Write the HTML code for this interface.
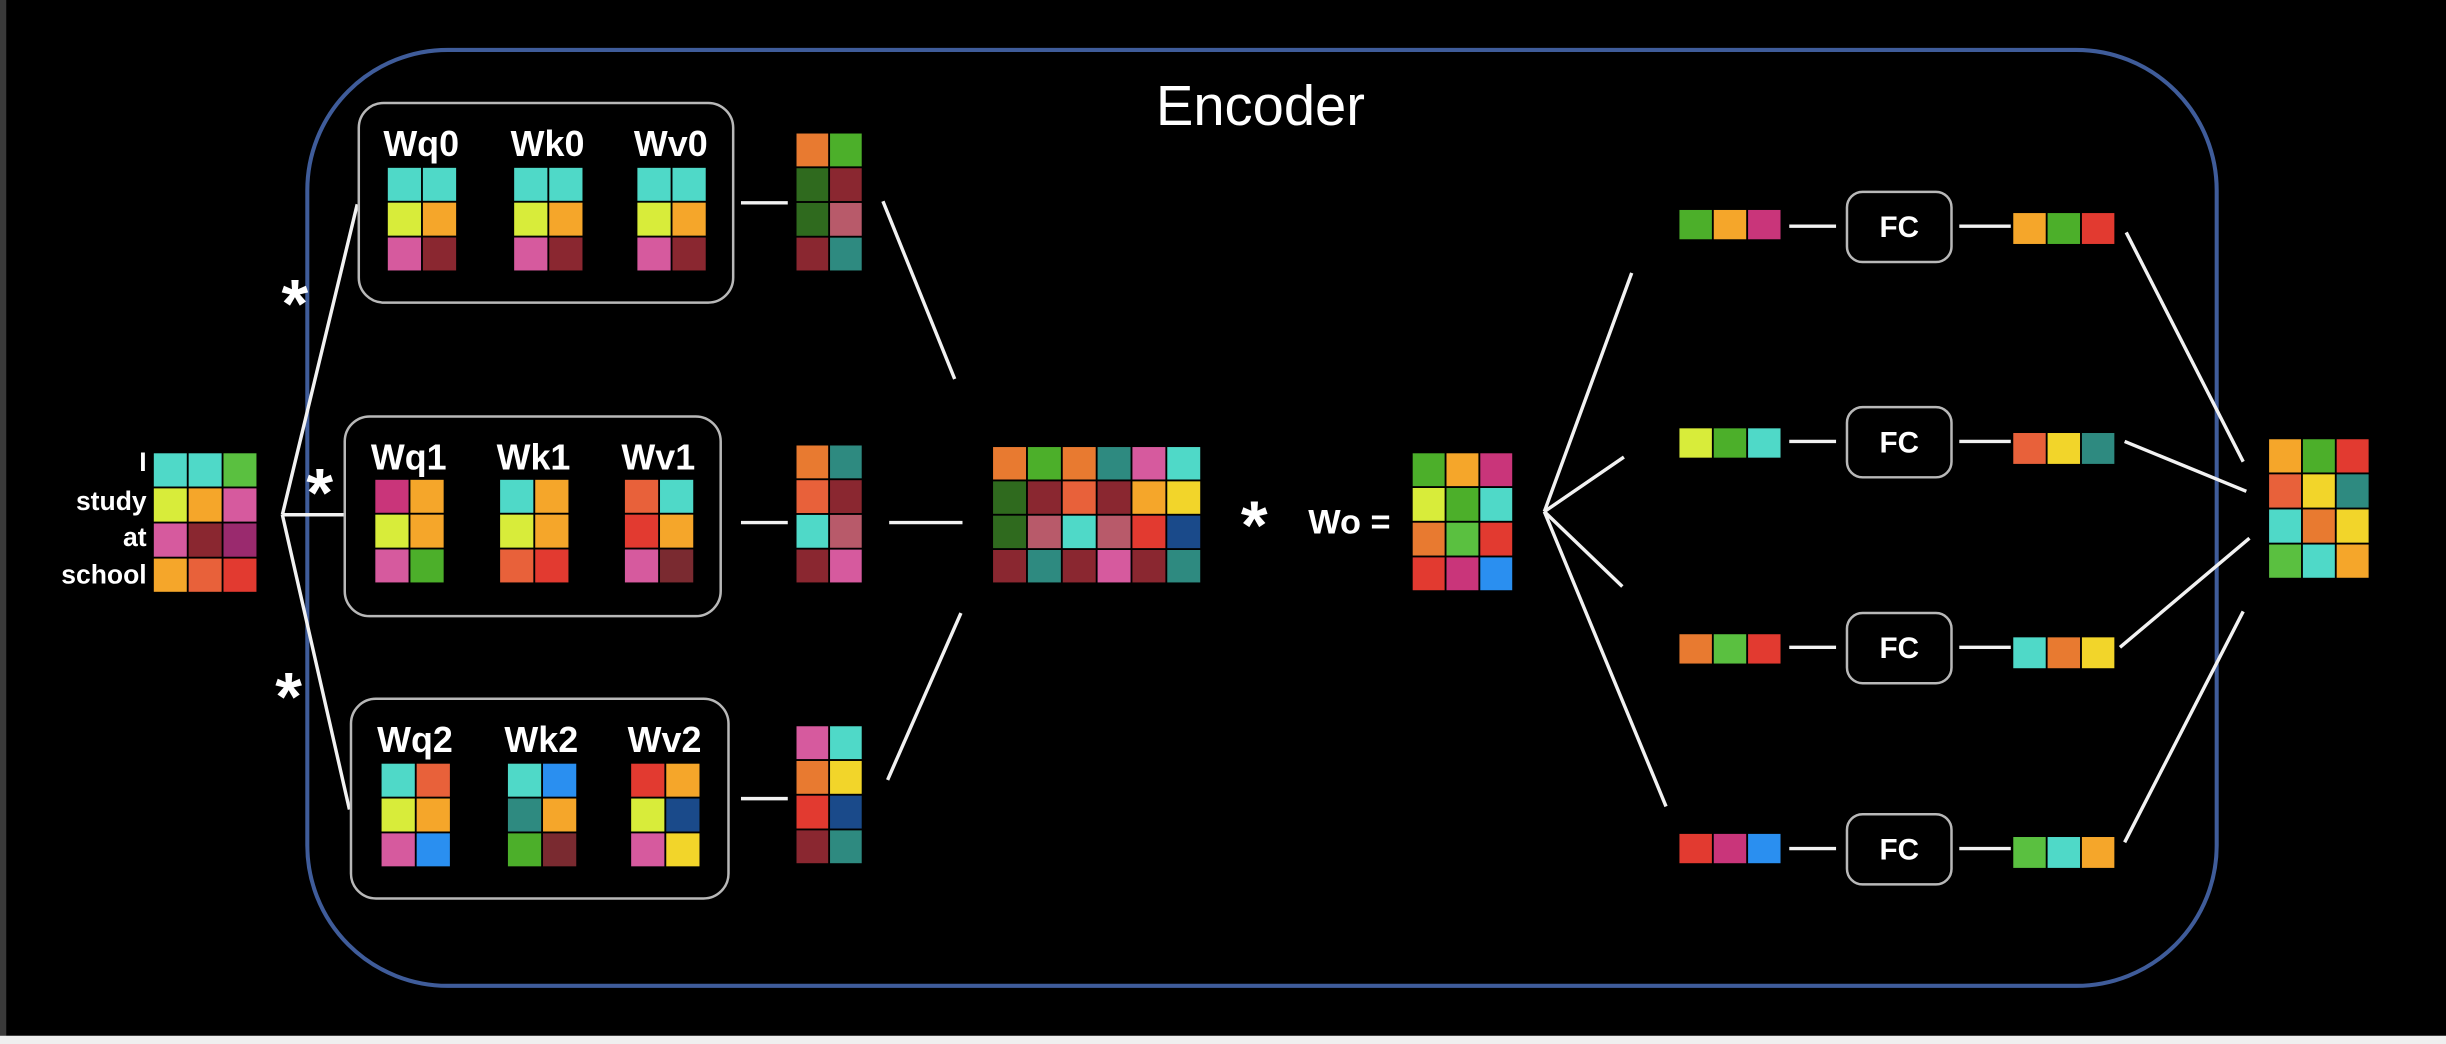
<!DOCTYPE html>
<html><head><meta charset="utf-8"><style>
html,body{margin:0;padding:0;background:#000;overflow:hidden}
svg{display:block}
text{font-family:"Liberation Sans",sans-serif;fill:#fff}
</style></head><body>
<svg id="s" width="2446" height="1044" viewBox="0 0 1568 669.3" preserveAspectRatio="none" xmlns="http://www.w3.org/2000/svg">
<rect x="0" y="0" width="1568" height="669.3" fill="#000"/>
<rect x="0" y="0" width="4" height="664" fill="#3a3a3a"/>
<rect x="0" y="664" width="1568" height="6" fill="#efefef"/>
<rect x="197" y="32" width="1224" height="600" rx="90" ry="90" fill="none" stroke="#3f5c9a" stroke-width="2.6"/>
<text x="808" y="80" font-size="36" text-anchor="middle">Encoder</text>
<g id="lines" stroke="#f2f2f2" stroke-width="2.2" fill="none"></g>
<g id="boxes"></g>
<g id="grids"></g>
<g id="labels"></g>
</svg>
<script>
const C={tq:'#4fd9c8',gr:'#4caf2a',lg:'#5ac040',yl:'#d8ec3a',or:'#f5a62a',mg:'#c9357a',pk:'#d65a9e',dr:'#8a2730',pu:'#9a2a6e',ro:'#e8613a',rd:'#e23a30',dg:'#2f6a1e',rs:'#b85a6a',te:'#2e8a80',nv:'#1a4a8a',bl:'#2a8ff0',ye:'#f2d52a',o2:'#e87a30',dk:'#7a2a30'};
const inputM=[['tq','tq','lg'],['yl','or','pk'],['pk','dr','pu'],['or','ro','rd']];
const wq0=[['tq','tq'],['yl','or'],['pk','dr']];
const wk0=[['tq','tq'],['yl','or'],['pk','dr']];
const wv0=[['tq','tq'],['yl','or'],['pk','dr']];
const wq1=[['mg','or'],['yl','or'],['pk','gr']];
const wk1=[['tq','or'],['yl','or'],['ro','rd']];
const wv1=[['ro','tq'],['rd','or'],['pk','dk']];
const wq2=[['tq','ro'],['yl','or'],['pk','bl']];
const wk2=[['tq','bl'],['te','or'],['gr','dk']];
const wv2=[['rd','or'],['yl','nv'],['pk','ye']];
const z0=[['o2','gr'],['dg','dr'],['dg','rs'],['dr','te']];
const z1=[['o2','te'],['ro','dr'],['tq','rs'],['dr','pk']];
const z2=[['pk','tq'],['o2','ye'],['rd','nv'],['dr','te']];
const zc=[['o2','gr','o2','te','pk','tq'],['dg','dr','ro','dr','or','ye'],['dg','rs','tq','rs','rd','nv'],['dr','te','dr','pk','dr','te']];
const wo=[['gr','or','mg'],['yl','gr','tq'],['o2','lg','rd'],['rd','mg','bl']];
const rowsIn=[['gr','or','mg'],['yl','gr','tq'],['o2','lg','rd'],['rd','mg','bl']];
const rowsOut=[['or','gr','rd'],['ro','ye','te'],['tq','o2','ye'],['lg','tq','or']];
const outM=[['or','gr','rd'],['ro','ye','te'],['tq','o2','ye'],['lg','tq','or']];
const NS='http://www.w3.org/2000/svg';
function mk(tag,attrs,parent){const e=document.createElementNS(NS,tag);for(const k in attrs)e.setAttribute(k,attrs[k]);document.getElementById(parent).appendChild(e);return e;}
function grid(m,x,y,w,h,name){const rows=m.length,cols=m[0].length,cw=w/cols,ch=h/rows;
 const g=mk('g',{},'grids');
 
 
 m.forEach((r,i)=>r.forEach((c,j)=>{const e=document.createElementNS(NS,'rect');
  e.setAttribute('x',x+j*cw+0.6);e.setAttribute('y',y+i*ch+0.6);e.setAttribute('width',cw-1.2);e.setAttribute('height',ch-1.2);e.setAttribute('fill',C[c]);
  
  
  g.appendChild(e);}));}
function line(x1,y1,x2,y2){const e=mk('line',{x1,y1,x2,y2},'lines');
 
 }
function txt(s,x,y,size,anchor,name){const e=mk('text',{x,y,'font-size':size,'font-weight':'bold','text-anchor':anchor},'labels');e.textContent=s;
 
 }
function box(x,y,w,h,r,name){const e=mk('rect',{x,y,width:w,height:h,rx:r,ry:r,fill:'#000',stroke:'#b8b8b8','stroke-width':1.6},'boxes');
 
 }
grid(inputM,98,290,67,90,'input-matrix');
[['I',302],['study',327],['at',350],['school',374]].forEach(([s,y])=>txt(s,94,y,17,'end','token-label-'+s));
line(181,330,229,131);line(181,330,221,330);line(181,330,224,519);
[[189,210],[205,331],[185,462]].forEach(([x,y],i)=>txt('*',x,y,44,'middle','multiply-star-'+i));
const heads=[{bx:230,by:66,bw:240,bh:128,ly:100,my:107,xs:[248,329,408],ms:[wq0,wk0,wv0],n:'0',zy:85,z:z0,cy:130},
 {bx:221,by:267,bw:241,bh:128,ly:301,my:307,xs:[240,320,400],ms:[wq1,wk1,wv1],n:'1',zy:285,z:z1,cy:335},
 {bx:225,by:448,bw:242,bh:128,ly:482,my:489,xs:[244,325,404],ms:[wq2,wk2,wv2],n:'2',zy:465,z:z2,cy:512}];
heads.forEach(h=>{box(h.bx,h.by,h.bw,h.bh,16,'head-box-'+h.n);
 ['Wq','Wk','Wv'].forEach((l,i)=>{txt(l+h.n,h.xs[i]+22,h.ly,23,'middle',l.toLowerCase()+h.n+'-label');grid(h.ms[i],h.xs[i],h.my,45,67,l.toLowerCase()+h.n+'-matrix');});
 line(475,h.cy,505,h.cy);grid(h.z,510,h.zy,43,89,'z'+h.n+'-matrix');});
line(566,129,612,243);line(570,335,617,335);line(616,393,569,500);
grid(zc,636,286,134,88,'concat-matrix');
txt('*',804,352,44,'middle','wo-multiply-star');
txt('Wo =',865,342,22,'middle','wo-label');
grid(wo,905,290,65,89,'wo-matrix');
line(990,328,1046,175);line(990,328,1041,293);line(990,328,1040,376);line(990,328,1068,517);
const rys=[[134,136,123],[274,277,261],[406,408,393],[534,536,522]];
rys.forEach((r,i)=>{grid([rowsIn[i]],1076,r[0],66,20,'row-in-'+i);
 const cy=r[2]+22;line(1147,cy,1177,cy);box(1184,r[2],67,45,10,'fc-box-'+i);
 txt('FC',1217.5,cy+7,19,'middle','fc-label-'+i);line(1256,cy,1289,cy);
 grid([rowsOut[i]],1290,r[1],66,21,'row-out-'+i);});
line(1363,149,1438,296);line(1362,283,1440,315);line(1359,415,1442,345);line(1362,540,1438,392);
grid(outM,1454,281,65,90,'output-matrix');
</script>
</body></html>
